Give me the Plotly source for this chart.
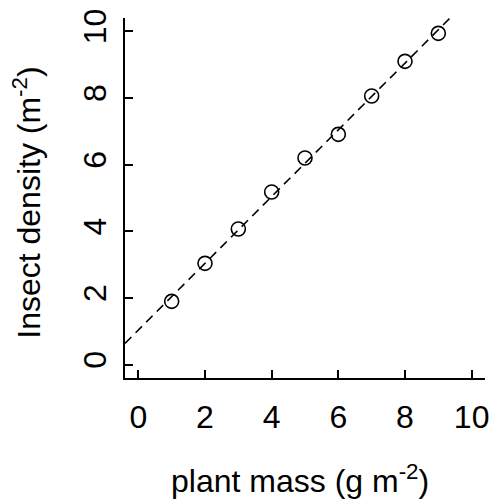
import numpy as np
import plotly.graph_objects as go

# Data
plant_mass = [1, 2, 3, 4, 5, 6, 7, 8, 9]
insect_density = [1.90, 3.04, 4.07, 5.18, 6.20, 6.91, 8.06, 9.10, 9.94]
tick_vals = [0, 2, 4, 6, 8, 10]
tick_text = ["0", "2", "4", "6", "8", "10"]
x_range = [-0.4, 10.4]
y_range = [-0.4, 10.4]

# least-squares fit line (like abline(lm(...)))
slope, intercept = np.polyfit(plant_mass, insect_density, 1)
fit_x = np.array(x_range)
fit_y = intercept + slope * fit_x

FONT = "Liberation Sans, Arial, sans-serif"
FS = 32

fig = go.Figure()
fig.add_trace(go.Scatter(
    x=fit_x, y=fit_y, mode="lines",
    line=dict(color="black", width=1.6, dash="9px,6px"),
    showlegend=False, hoverinfo="skip",
))
fig.add_trace(go.Scatter(
    x=plant_mass, y=insect_density, mode="markers",
    marker=dict(symbol="circle-open", size=14, color="black",
                line=dict(width=1.6, color="black")),
    showlegend=False,
))

axis_common = dict(
    showgrid=False, zeroline=False, showline=True, linecolor="black",
    linewidth=2, ticks="inside", ticklen=8, tickwidth=1.5, tickcolor="black",
    tickvals=tick_vals, ticktext=tick_text,
    tickfont=dict(family=FONT, size=FS, color="black"),
)
fig.update_xaxes(range=x_range, ticklabelstandoff=10, **axis_common)
fig.update_yaxes(range=y_range, tickangle=-90, ticklabelstandoff=4, **axis_common)

fig.add_annotation(
    text="plant mass (g m<sup>-2</sup>)", xref="paper", yref="paper",
    x=0.486, y=-0.28, xanchor="center", yanchor="middle", showarrow=False,
    font=dict(family=FONT, size=FS, color="black"),
)
fig.add_annotation(
    text="Insect density (m<sup>-2</sup>)", xref="paper", yref="paper",
    x=-0.273, y=0.486, xanchor="center", yanchor="middle", showarrow=False,
    textangle=-90, font=dict(family=FONT, size=FS, color="black"),
)

fig.update_layout(
    width=498, height=499,
    margin=dict(l=125, r=9, t=15, b=121),
    paper_bgcolor="white", plot_bgcolor="white",
    font=dict(family=FONT, color="black"),
)

fig.write_html("out.html")
